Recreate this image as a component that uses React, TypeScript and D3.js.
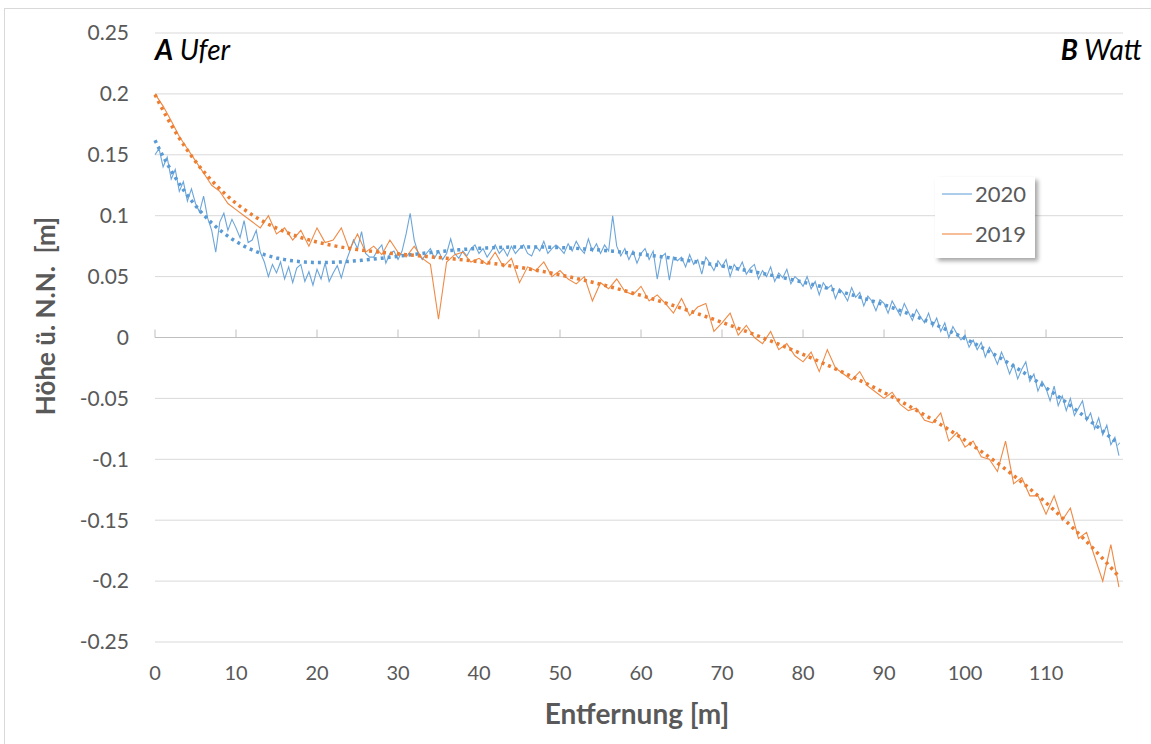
import React from "react";
import * as d3 from "d3";

// 2020 profile, sampled every 0.5 m from 0 to 119 m
const step2020 = 0.5;
const hoehe2020 = [
  0.15, 0.155, 0.14, 0.148, 0.13, 0.138, 0.12, 0.128, 0.112, 0.122,
  0.11, 0.103, 0.116, 0.098, 0.088, 0.07, 0.095, 0.102, 0.088, 0.097,
  0.09, 0.082, 0.096, 0.078, 0.08, 0.088, 0.07, 0.062, 0.05, 0.06,
  0.053, 0.062, 0.048, 0.058, 0.045, 0.057, 0.06, 0.046, 0.054, 0.043,
  0.056, 0.048, 0.061, 0.046, 0.053, 0.059, 0.049, 0.061, 0.07, 0.08,
  0.073, 0.087, 0.069, 0.066, 0.066, 0.072, 0.076, 0.061, 0.069, 0.071,
  0.064, 0.071, 0.085, 0.102, 0.08, 0.069, 0.064, 0.069, 0.073, 0.065,
  0.071, 0.064, 0.069, 0.081, 0.069, 0.065, 0.071, 0.067, 0.073, 0.076,
  0.069, 0.073, 0.066, 0.071, 0.076, 0.069, 0.073, 0.067, 0.075, 0.069,
  0.073, 0.076, 0.069, 0.067, 0.075, 0.071, 0.079, 0.069, 0.073, 0.076,
  0.073, 0.069, 0.077, 0.071, 0.079, 0.073, 0.069, 0.081, 0.071, 0.077,
  0.069, 0.076, 0.071, 0.1, 0.075, 0.067, 0.073, 0.064, 0.071, 0.061,
  0.069, 0.073, 0.064, 0.071, 0.048, 0.066, 0.069, 0.047, 0.066, 0.063,
  0.066, 0.058, 0.068, 0.06, 0.064, 0.052, 0.066, 0.061, 0.055, 0.063,
  0.058, 0.064, 0.05, 0.06, 0.055, 0.062, 0.052, 0.057, 0.06, 0.048,
  0.055, 0.05, 0.058, 0.046, 0.053, 0.049, 0.056, 0.044, 0.05, 0.047,
  0.042, 0.05, 0.04, 0.046, 0.035, 0.045, 0.04, 0.043, 0.032, 0.04,
  0.036, 0.03, 0.041, 0.033, 0.037, 0.026, 0.034, 0.03, 0.022, 0.031,
  0.028, 0.02, 0.03, 0.024, 0.018, 0.028, 0.021, 0.014, 0.023, 0.017,
  0.012, 0.02, 0.009, 0.016, 0.005, 0.012, 0.0, 0.009, 0.003, -0.002,
  0.002, -0.008, -0.002, -0.01, -0.004, -0.016, -0.008, -0.014, -0.022, -0.012,
  -0.02, -0.03, -0.022, -0.034, -0.026, -0.02, -0.036, -0.03, -0.044, -0.036,
  -0.042, -0.052, -0.04, -0.056, -0.048, -0.06, -0.05, -0.064, -0.058, -0.052,
  -0.068, -0.062, -0.075, -0.066, -0.08, -0.072, -0.088, -0.082, -0.097,
];

// 2019 profile, sampled every 1 m from 0 to 119 m
const step2019 = 1;
const hoehe2019 = [
  0.2, 0.19, 0.178, 0.165, 0.155, 0.145, 0.135, 0.125, 0.12, 0.11,
  0.105, 0.1, 0.095, 0.09, 0.1, 0.085, 0.09, 0.08, 0.088, 0.075,
  0.09, 0.078, 0.08, 0.09, 0.072, 0.085, 0.07, 0.075, 0.068, 0.08,
  0.07, 0.066, 0.075, 0.065, 0.06, 0.015, 0.062, 0.068, 0.07, 0.062,
  0.065, 0.06, 0.07, 0.058, 0.065, 0.045, 0.058, 0.055, 0.062, 0.05,
  0.055, 0.048, 0.044, 0.05, 0.03, 0.045, 0.04, 0.048, 0.038, 0.035,
  0.042, 0.03, 0.035, 0.028, 0.02, 0.032, 0.018, 0.025, 0.028, 0.005,
  0.012, 0.02, 0.002, 0.01, 0.0, -0.005, 0.005, -0.01, -0.005, -0.015,
  -0.02, -0.012, -0.028, -0.01, -0.025, -0.03, -0.035, -0.028, -0.04, -0.045,
  -0.05, -0.045, -0.055, -0.06, -0.058, -0.068, -0.07, -0.062, -0.085, -0.078,
  -0.09, -0.085, -0.098, -0.1, -0.11, -0.085, -0.12, -0.115, -0.13, -0.13,
  -0.145, -0.13, -0.15, -0.14, -0.165, -0.16, -0.18, -0.2, -0.17, -0.205,
];

const yTicks = [0.25, 0.2, 0.15, 0.1, 0.05, 0, -0.05, -0.1, -0.15, -0.2, -0.25];
const xTicks = [0, 10, 20, 30, 40, 50, 60, 70, 80, 90, 100, 110];
const seriesNames = ["2020", "2019"];

const BLUE = "#5b9bd5";
const ORANGE = "#ed7d31";
const GRID = "#d9d9d9";
const TEXT = "#595959";
const FONT = "Lato, 'Open Sans', sans-serif";

type Pt = { x: number; y: number };

const toPoints = (vals: number[], step: number): Pt[] =>
  vals.map((v, i) => ({ x: i * step, y: v }));

// least squares polynomial fit (like an Excel trendline)
function polyFit(pts: Pt[], order: number) {
  const x0 = d3.mean(pts, (p) => p.x) as number;
  const s = (d3.max(pts, (p) => p.x) as number) - x0;
  const n = order + 1;
  const A = Array.from({ length: n }, () => new Array(n + 1).fill(0));
  pts.forEach((p) => {
    const t = (p.x - x0) / s;
    const pw = Array.from({ length: 2 * n }, (_, k) => Math.pow(t, k));
    for (let i = 0; i < n; i++) {
      for (let j = 0; j < n; j++) A[i][j] += pw[i + j];
      A[i][n] += pw[i] * p.y;
    }
  });
  for (let c = 0; c < n; c++) {
    let piv = c;
    for (let r = c + 1; r < n; r++) if (Math.abs(A[r][c]) > Math.abs(A[piv][c])) piv = r;
    [A[c], A[piv]] = [A[piv], A[c]];
    for (let r = 0; r < n; r++) {
      if (r === c) continue;
      const f = A[r][c] / A[c][c];
      for (let k = c; k <= n; k++) A[r][k] -= f * A[c][k];
    }
  }
  const coef = A.map((row, i) => row[n] / row[i]);
  return (x: number) => {
    const t = (x - x0) / s;
    return coef.reduce((acc, c, k) => acc + c * Math.pow(t, k), 0);
  };
}

const App = () => {
  const width = 1151;
  const height = 744;

  const x = d3.scaleLinear().domain([0, 119.5]).range([155, 1123]);
  const y = d3.scaleLinear().domain([-0.25, 0.25]).range([642, 33]);

  const pts2020 = toPoints(hoehe2020, step2020);
  const pts2019 = toPoints(hoehe2019, step2019);

  const line = d3
    .line<Pt>()
    .x((d) => x(d.x))
    .y((d) => y(d.y));

  const trend = (pts: Pt[]) => {
    const f = polyFit(pts, 6);
    const xs = d3.range(0, 119.01, 0.5);
    return line(xs.map((v) => ({ x: v, y: f(v) })));
  };

  return (
    <svg
      width={width}
      height={height}
      style={{ position: "absolute", left: 0, top: 0, background: "#fff" }}
      fontFamily={FONT}
    >
      <defs>
        <filter id="shadow" x="-10%" y="-10%" width="130%" height="140%">
          <feDropShadow dx="3" dy="3" stdDeviation="2" floodColor="#000" floodOpacity="0.35" />
        </filter>
      </defs>
      <rect x={4.5} y={8.5} width={1160} height={760} fill="#fff" stroke={GRID} />

      {/* gridlines */}
      {yTicks.map((t) => (
        <line
          key={t}
          x1={x(0)}
          x2={x(119.5)}
          y1={y(t)}
          y2={y(t)}
          stroke={t === 0 ? "#bfbfbf" : GRID}
          strokeWidth={1}
        />
      ))}
      {xTicks.map((t) => (
        <line key={t} x1={x(t)} x2={x(t)} y1={y(0)} y2={y(0) - 8} stroke="#bfbfbf" />
      ))}

      {/* tick labels */}
      {yTicks.map((t) => (
        <text
          key={t}
          x={129}
          y={y(t)}
          dy="0.35em"
          textAnchor="end"
          fontSize={21}
          fill={TEXT}
        >
          {String(t)}
        </text>
      ))}
      {xTicks.map((t) => (
        <text key={t} x={x(t)} y={680} textAnchor="middle" fontSize={20} fill={TEXT}>
          {t}
        </text>
      ))}

      {/* data */}
      <path d={line(pts2020) || ""} fill="none" stroke={BLUE} strokeWidth={1.1} opacity={0.9} />
      <path d={line(pts2019) || ""} fill="none" stroke={ORANGE} strokeWidth={1.1} opacity={0.9} />
      <path
        d={trend(pts2020) || ""}
        fill="none"
        stroke={BLUE}
        strokeWidth={3.5}
        strokeDasharray="3 4"
      />
      <path
        d={trend(pts2019) || ""}
        fill="none"
        stroke={ORANGE}
        strokeWidth={3.5}
        strokeDasharray="3 4"
      />

      {/* corner labels */}
      <text x={155} y={60} fontSize={28} fill="#000">
        <tspan fontWeight="bold" fontStyle="italic">A</tspan>
        <tspan fontStyle="italic"> Ufer</tspan>
      </text>
      <text x={1142} y={60} fontSize={28} fill="#000" textAnchor="end">
        <tspan fontWeight="bold" fontStyle="italic">B</tspan>
        <tspan fontStyle="italic"> Watt</tspan>
      </text>

      {/* axis titles */}
      <text
        transform="translate(55,316) rotate(-90)"
        textAnchor="middle"
        fontSize={26}
        fontWeight="bold"
        fill={TEXT}
        style={{ whiteSpace: "pre" }}
      >
        {"Höhe ü. N.N.  [m]"}
      </text>
      <text x={637} y={724} textAnchor="middle" fontSize={28} fontWeight="bold" fill={TEXT}>
        Entfernung [m]
      </text>

      {/* legend */}
      <g transform="translate(935,177)">
        <rect width={100} height={81} fill="#fff" filter="url(#shadow)" />
        {seriesNames.map((name, i) => (
          <g key={name} transform={`translate(0,${17 + i * 40})`}>
            <line x1={7} x2={37} y1={0} y2={0} stroke={i === 0 ? BLUE : ORANGE} strokeWidth={1} />
            <text x={40} y={0} dy="0.35em" fontSize={22} fill={TEXT}>
              {name}
            </text>
          </g>
        ))}
      </g>
    </svg>
  );
};

export default App;
